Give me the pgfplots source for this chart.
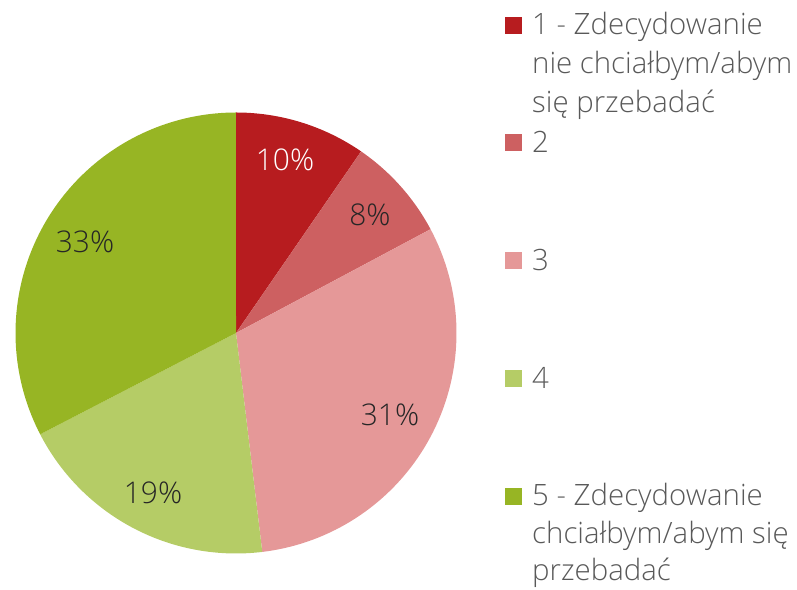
\documentclass[border=0pt]{standalone}
\usepackage{pgfplots}
\pgfplotsset{compat=1.18}
\usepackage{fontspec}
\setmainfont{Open Sans}[UprightFont=* Light]
\definecolor{c1}{HTML}{B71C1F}
\definecolor{c2}{HTML}{CD6061}
\definecolor{c3}{HTML}{E59898}
\definecolor{c4}{HTML}{B5CC66}
\definecolor{c5}{HTML}{97B524}
\definecolor{legtext}{HTML}{595959}
\definecolor{labtext}{HTML}{262626}
% slice(colour, cumulative start %, cumulative end %)
\newcommand{\slice}[3]{%
  \addplot[fill=#1, draw=none, domain={90-3.6*#2}:{90-3.6*#3}, samples=90]
    ({236+220.5*cos(x)},{257+220.5*sin(x)}) -- (axis cs:236,257) -- cycle;}
\begin{document}
\begin{tikzpicture}
\begin{axis}[
  width=797bp, height=590bp, scale only axis,
  xmin=0, xmax=797, ymin=0, ymax=590,
  hide axis, clip=false,
]
% values (%): 9.6, 7.6, 30.9, 19.3, 32.6 -> cumulative 0, 9.6, 17.2, 48.1, 67.4, 100
\slice{c1}{0}{9.6}
\slice{c2}{9.6}{17.2}
\slice{c3}{17.2}{48.1}
\slice{c4}{48.1}{67.4}
\slice{c5}{67.4}{100}
\begin{scope}[font=\fontsize{30}{36}\selectfont]
\node[text=white] at (axis cs:285,430) {10\%};
\node[text=labtext] at (axis cs:370,375) {8\%};
\node[text=labtext] at (axis cs:390,175) {31\%};
\node[text=labtext] at (axis cs:153,97) {19\%};
\node[text=labtext] at (axis cs:85,348) {33\%};
\end{scope}
\begin{scope}[font=\fontsize{29.5}{39}\selectfont, text=legtext, every node/.style={anchor=base west, inner sep=0pt}]
\fill[c1] (axis cs:505,556) rectangle (axis cs:522,573);
\fill[c2] (axis cs:505,438.5) rectangle (axis cs:522,455.5);
\fill[c3] (axis cs:505,320.5) rectangle (axis cs:522,337.5);
\fill[c4] (axis cs:505,202.5) rectangle (axis cs:522,219.5);
\fill[c5] (axis cs:505,84.5) rectangle (axis cs:522,101.5);
\node at (axis cs:532,555) {1 - Zdecydowanie};
\node at (axis cs:532,516) {nie chciałbym/abym};
\node at (axis cs:532,477) {się przebadać};
\node at (axis cs:532,437) {2};
\node at (axis cs:532,319) {3};
\node at (axis cs:532,201) {4};
\node at (axis cs:532,84) {5 - Zdecydowanie};
\node at (axis cs:532,46) {chciałbym/abym się};
\node at (axis cs:532,9) {przebadać};
\end{scope}
\end{axis}
\pgfresetboundingbox
\path (current axis.south west) rectangle (current axis.north east);
\end{tikzpicture}
\end{document}
